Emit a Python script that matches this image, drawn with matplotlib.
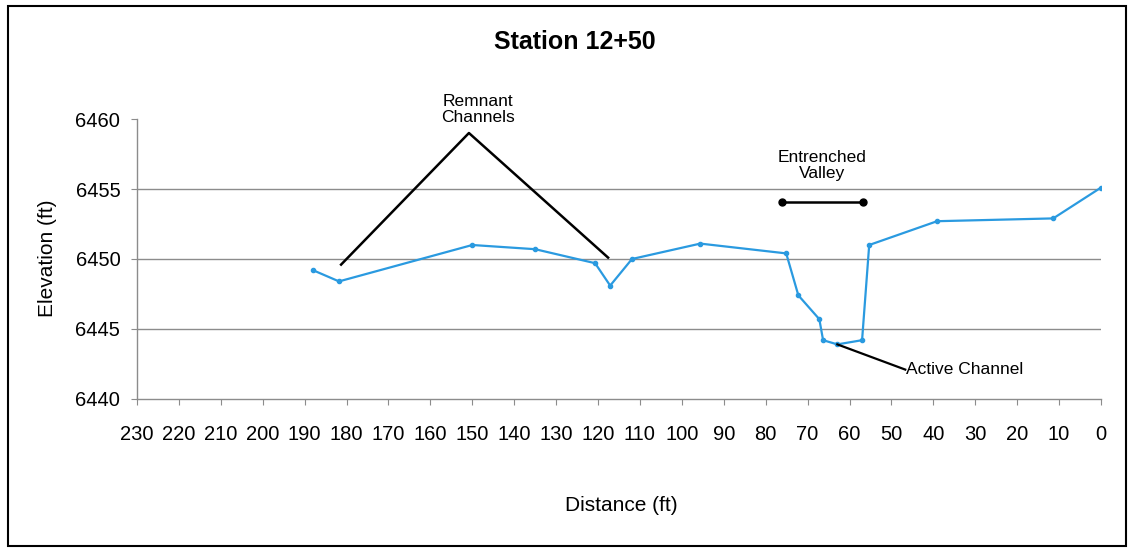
import matplotlib.pyplot as plt
from matplotlib.patches import Rectangle

plt.rcParams['font.family'] = ['Liberation Sans', 'DejaVu Sans']

# ===================================================
# DADOS - perfil da seção
# ===================================================

distancia = [188, 181.8, 150, 135, 120.7, 117.1, 111.9, 95.6, 75.1,
             72.2, 67.2, 66.3, 62.9, 57, 55.3, 39.1, 11.4, 0]
elevacao = [6449.2, 6448.4, 6451.0, 6450.7, 6449.7, 6448.1, 6450.0, 6451.1, 6450.4,
            6447.4, 6445.7, 6444.2, 6443.9, 6444.2, 6451.0, 6452.7, 6452.9, 6455.1]

x_ticks = list(range(230, -1, -10))
y_ticks = [6440, 6445, 6450, 6455, 6460]

# anotações (coordenadas em dados)
remanescente_x = [181.3, 150.8, 117.6]
remanescente_y = [6449.6, 6459.0, 6450.1]
vale_x = [76.1, 56.7]
vale_y = [6454.1, 6454.1]
ativo_x = [62.9, 46.7]
ativo_y = [6443.9, 6442.1]

# ===================================================
# GRÁFICO
# ===================================================

fig = plt.figure(figsize=(11.32, 5.52), dpi=100)
ax = fig.add_axes([0.121, 0.2772, 0.8516, 0.5072])

for yv in y_ticks[1:-1]:
    ax.axhline(yv, color='#8c8c8c', linewidth=1.0, zorder=1)

ax.plot(distancia, elevacao, color='#2a9ae0', linewidth=1.6,
        marker='o', markersize=3, zorder=3)

ax.plot(remanescente_x, remanescente_y, color='black', linewidth=1.8, zorder=4)
ax.plot(vale_x, vale_y, color='black', linewidth=1.8, marker='o',
        markersize=5, zorder=4)
ax.plot(ativo_x, ativo_y, color='black', linewidth=1.6, zorder=4)

ax.text(148.6, 6460.7, 'Remnant\nChannels', ha='center', va='center',
        fontsize=12.5, linespacing=1.1)
ax.text(66.5, 6456.7, 'Entrenched\nValley', ha='center', va='center',
        fontsize=12.5, linespacing=1.1)
ax.text(46.5, 6442.1, 'Active Channel', ha='left', va='center', fontsize=12.5)

ax.set_xlim(230, 0)
ax.set_ylim(6440, 6460)
ax.set_xticks(x_ticks)
ax.set_yticks(y_ticks)

for s in ['top', 'right']:
    ax.spines[s].set_visible(False)
for s in ['left', 'bottom']:
    ax.spines[s].set_color('#8c8c8c')
    ax.spines[s].set_linewidth(1.0)

ax.tick_params(axis='x', labelsize=14.5, length=4, color='#8c8c8c', pad=15)
ax.tick_params(axis='y', labelsize=14.5, length=4, color='#8c8c8c', pad=8)

fig.text(0.508, 0.924, 'Station 12+50', ha='center', va='center',
         fontsize=18, fontweight='bold')
fig.text(0.549, 0.085, 'Distance (ft)', ha='center', va='center', fontsize=15)
fig.text(0.042, 0.533, 'Elevation (ft)', ha='center', va='center',
         fontsize=15, rotation=90)

fig.patches.append(Rectangle((0.007, 0.011), 0.988, 0.979, transform=fig.transFigure,
                             fill=False, edgecolor='black', linewidth=1.5))

fig.savefig('out.png', dpi=100)
